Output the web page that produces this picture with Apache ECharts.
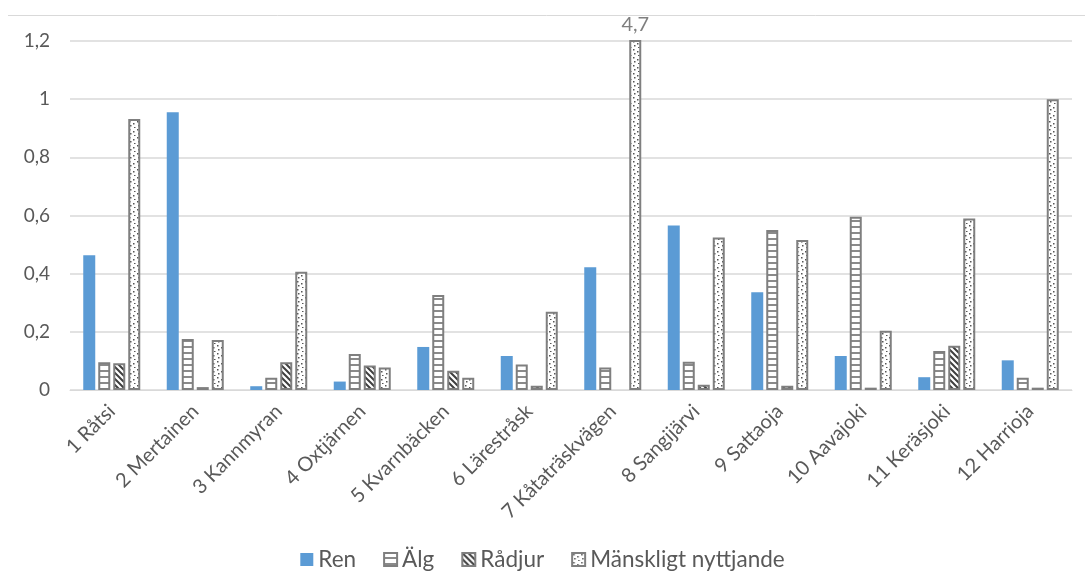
<!DOCTYPE html>
<html>
<head>
<meta charset="utf-8">
<script src="https://cdn.jsdelivr.net/npm/echarts@6/dist/echarts.min.js"></script>
<style>
  html, body { margin: 0; padding: 0; background: #ffffff; }
  #chart { width: 1085px; height: 576px; }
</style>
</head>
<body>
<div id="chart"></div>
<script>
// Sites along the x axis
const categories = [
  '1 Råtsi', '2 Mertainen', '3 Kannmyran', '4 Oxtjärnen', '5 Kvarnbäcken', '6 Lärestråsk',
  '7 Kåtaträskvägen', '8 Sangijärvi', '9 Sattaoja', '10 Aavajoki', '11 Keräsjoki', '12 Harrioja'
];
// Values per series
const ren       = [0.463, 0.955, 0.013, 0.029, 0.148, 0.117, 0.422, 0.566, 0.336, 0.117, 0.044, 0.102];
const alg       = [0.095, 0.175, 0.042, 0.124, 0.327, 0.088, 0.077, 0.097, 0.550, 0.596, 0.134, 0.042];
const radjur    = [0.092, 0.010, 0.095, 0.084, 0.066, 0.015, null,  0.018, 0.015, 0.008, 0.152, 0.008];
const manskligt = [0.932, 0.172, 0.407, 0.077, 0.042, 0.269, 4.7,   0.524, 0.516, 0.204, 0.590, 1.000];
const seriesNames = ['Ren', 'Älg', 'Rådjur', 'Mänskligt nyttjande'];
const yTicks = [0, 0.2, 0.4, 0.6, 0.8, 1, 1.2];

// Fill patterns drawn on small canvases
function makeTile(w, h, draw) {
  const c = document.createElement('canvas');
  c.width = w; c.height = h;
  const ctx = c.getContext('2d');
  ctx.fillStyle = '#ffffff';
  ctx.fillRect(0, 0, w, h);
  draw(ctx);
  return c;
}
const stripesH = makeTile(6, 6, ctx => {
  ctx.fillStyle = '#8a8a8a';
  ctx.fillRect(0, 4, 6, 2);
});
const stripesD = makeTile(6, 6, ctx => {
  ctx.strokeStyle = '#3f3f3f';
  ctx.lineWidth = 2;
  ctx.beginPath();
  ctx.moveTo(-1, -1); ctx.lineTo(7, 7);
  ctx.moveTo(-1, 5); ctx.lineTo(1, 7);
  ctx.moveTo(5, -1); ctx.lineTo(7, 1);
  ctx.stroke();
});
const dots = makeTile(8, 8, ctx => {
  ctx.fillStyle = '#555555';
  ctx.fillRect(1, 1, 1.5, 1.5);
  ctx.fillRect(5, 3, 1.5, 1.5);
  ctx.fillRect(2, 5, 1.5, 1.5);
  ctx.fillRect(6, 7, 1.5, 1.5);
});

const textColor = '#595959';
const fontFamily = 'Lato, "Open Sans", sans-serif';
const border = '#7f7f7f';

const chart = echarts.init(document.getElementById('chart'), null, { renderer: 'canvas' });

function barSeries(name, data, style, extra) {
  return Object.assign({
    name: name,
    type: 'bar',
    data: data,
    barWidth: 12,
    barGap: '25%',
    clip: true,
    itemStyle: style
  }, extra || {});
}

chart.setOption({
  animation: false,
  backgroundColor: '#ffffff',
  textStyle: { fontFamily: fontFamily },
  grid: { left: 70, right: 13, top: 41, bottom: 186, containLabel: false },
  graphic: [{
    type: 'line',
    shape: { x1: 8, y1: 15.5, x2: 1085, y2: 15.5 },
    style: { stroke: '#d9d9d9', lineWidth: 1 }
  }],
  legend: {
    bottom: 0,
    left: 'center',
    itemWidth: 13,
    itemHeight: 13,
    itemGap: 27,
    icon: 'rect',
    textStyle: { color: textColor, fontSize: 22.5, fontFamily: fontFamily },
    data: seriesNames
  },
  xAxis: {
    type: 'category',
    data: categories,
    axisTick: { show: false },
    axisLine: { lineStyle: { color: '#d9d9d9', width: 1 } },
    axisLabel: { rotate: 45, color: textColor, fontSize: 20, margin: 18, interval: 0, fontFamily: fontFamily }
  },
  yAxis: {
    type: 'value',
    min: yTicks[0],
    max: yTicks[yTicks.length - 1],
    interval: 0.2,
    axisLine: { show: false },
    axisTick: { show: false },
    splitLine: { lineStyle: { color: '#d9d9d9', width: 1.5 } },
    axisLabel: {
      color: textColor, fontSize: 19, margin: 20, fontFamily: fontFamily,
      formatter: v => String(Math.round(v * 10) / 10).replace('.', ',')
    }
  },
  series: [
    barSeries(seriesNames[0], ren, { color: '#5b9bd5' }),
    barSeries(seriesNames[1], alg, { color: { image: stripesH, repeat: 'repeat' }, borderColor: border, borderWidth: 2 }),
    barSeries(seriesNames[2], radjur, { color: { image: stripesD, repeat: 'repeat' }, borderColor: border, borderWidth: 2 }),
    barSeries(seriesNames[3], manskligt.map(v => (v > yTicks[yTicks.length - 1])
        ? { value: v, label: { show: true, position: 'top', distance: 5, color: '#7f7f7f', fontSize: 20, fontFamily: fontFamily,
              formatter: p => String(p.value).replace('.', ',') } }
        : v),
      { color: { image: dots, repeat: 'repeat' }, borderColor: border, borderWidth: 2 })
  ]
});
</script>
</body>
</html>
